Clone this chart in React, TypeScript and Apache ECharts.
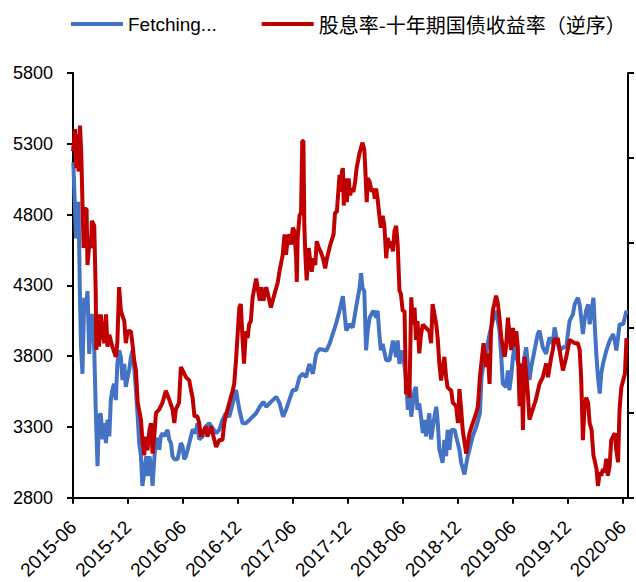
import React, { useEffect, useRef } from "react";
import * as echarts from "echarts";

const xTickLabels = ["2015-06", "2015-12", "2016-06", "2016-12", "2017-06", "2017-12", "2018-06", "2018-12", "2019-06", "2019-12", "2020-06"];

const seriesNames = ["Fetching...", "股息率-十年期国债收益率（逆序）"];

// Index level (left axis)
const indexSeries: [string, number][] = [
  ["2015-06-02", 5170], ["2015-06-11", 4632], ["2015-06-19", 4890], ["2015-06-24", 4192], ["2015-06-27", 3886],
  ["2015-07-02", 3676], ["2015-07-08", 4212], ["2015-07-14", 4143], ["2015-07-19", 4260], ["2015-07-25", 3816],
  ["2015-07-30", 4073], ["2015-08-05", 4095], ["2015-08-11", 3842], ["2015-08-16", 3422], ["2015-08-22", 3024],
  ["2015-08-27", 3373], ["2015-09-02", 3397], ["2015-09-08", 3213], ["2015-09-14", 3327], ["2015-09-19", 3187],
  ["2015-09-24", 3352], ["2015-09-30", 3234], ["2015-10-05", 3492], ["2015-10-10", 3562], ["2015-10-16", 3606],
  ["2015-10-22", 3490], ["2015-10-27", 3744], ["2015-11-02", 3842], ["2015-11-08", 3793], ["2015-11-13", 3632],
  ["2015-11-19", 3746], ["2015-11-24", 3583], ["2015-11-30", 3653], ["2015-12-05", 3700], ["2015-12-11", 3793],
  ["2015-12-16", 3840], ["2015-12-22", 3723], ["2015-12-28", 3560], ["2016-01-03", 3373], ["2016-01-08", 3187],
  ["2016-01-14", 3094], ["2016-01-19", 2884], ["2016-01-25", 2977], ["2016-02-01", 3094], ["2016-02-05", 2954],
  ["2016-02-11", 3094], ["2016-02-16", 3024], ["2016-02-21", 2884], ["2016-02-27", 3094], ["2016-03-03", 3213],
  ["2016-03-08", 3213], ["2016-03-14", 3140], ["2016-03-19", 3234], ["2016-03-25", 3257], ["2016-03-31", 3234],
  ["2016-04-05", 3257], ["2016-04-11", 3280], ["2016-04-16", 3213], ["2016-04-22", 3187], ["2016-04-27", 3094],
  ["2016-05-03", 3073], ["2016-05-14", 3073], ["2016-05-25", 3187], ["2016-05-31", 3163], ["2016-06-05", 3073],
  ["2016-06-11", 3094], ["2016-06-22", 3187], ["2016-07-03", 3282], ["2016-07-14", 3257], ["2016-07-19", 3327],
  ["2016-07-25", 3213], ["2016-08-06", 3234], ["2016-08-17", 3304], ["2016-08-28", 3327], ["2016-09-20", 3257],
  ["2016-09-30", 3280], ["2016-10-11", 3350], ["2016-10-22", 3397], ["2016-11-03", 3373], ["2016-11-14", 3467],
  ["2016-11-25", 3562], ["2016-12-06", 3422], ["2016-12-17", 3327], ["2016-12-28", 3327], ["2017-01-09", 3350],
  ["2017-01-20", 3373], ["2017-02-01", 3397], ["2017-02-12", 3443], ["2017-02-23", 3478], ["2017-03-04", 3443],
  ["2017-03-15", 3467], ["2017-03-26", 3490], ["2017-04-07", 3513], ["2017-04-18", 3467], ["2017-04-29", 3373],
  ["2017-05-09", 3422], ["2017-05-20", 3490], ["2017-06-01", 3562], ["2017-06-12", 3562], ["2017-06-23", 3653],
  ["2017-07-04", 3676], ["2017-07-15", 3653], ["2017-07-26", 3746], ["2017-08-07", 3676], ["2017-08-18", 3816],
  ["2017-08-29", 3851], ["2017-09-21", 3840], ["2017-10-01", 3886], ["2017-10-12", 3956], ["2017-10-23", 4026],
  ["2017-11-04", 4122], ["2017-11-15", 4224], ["2017-11-26", 3982], ["2017-12-07", 4026], ["2017-12-18", 4003],
  ["2017-12-29", 4143], ["2018-01-10", 4283], ["2018-01-15", 4387], ["2018-01-20", 4283], ["2018-01-26", 4259],
  ["2018-02-01", 3842], ["2018-02-06", 3980], ["2018-02-12", 4073], ["2018-02-23", 4122], ["2018-03-04", 4073],
  ["2018-03-09", 4122], ["2018-03-15", 3956], ["2018-03-20", 3842], ["2018-03-26", 3886], ["2018-04-07", 3772],
  ["2018-04-18", 3772], ["2018-04-29", 3910], ["2018-05-10", 3793], ["2018-05-15", 3912], ["2018-05-21", 3746],
  ["2018-06-01", 3840], ["2018-06-12", 3632], ["2018-06-18", 3422], ["2018-06-23", 3583], ["2018-06-29", 3373],
  ["2018-07-10", 3560], ["2018-07-15", 3583], ["2018-07-20", 3422], ["2018-07-26", 3467], ["2018-08-01", 3373],
  ["2018-08-07", 3257], ["2018-08-12", 3350], ["2018-08-18", 3234], ["2018-08-29", 3397], ["2018-09-04", 3213],
  ["2018-09-15", 3373], ["2018-09-21", 3443], ["2018-09-26", 3327], ["2018-10-01", 3140], ["2018-10-07", 3094],
  ["2018-10-12", 3047], ["2018-10-18", 3210], ["2018-10-24", 3094], ["2018-10-29", 3280], ["2018-11-04", 3140],
  ["2018-11-10", 3280], ["2018-11-21", 3280], ["2018-11-26", 3234], ["2018-12-07", 3140], ["2018-12-13", 3047],
  ["2018-12-24", 2966], ["2019-01-04", 3094], ["2019-01-10", 3140], ["2019-01-21", 3234], ["2019-02-02", 3303],
  ["2019-02-13", 3397], ["2019-02-18", 3653], ["2019-02-24", 3746], ["2019-03-05", 3842], ["2019-03-16", 3956],
  ["2019-03-27", 4050], ["2019-04-07", 4120], ["2019-04-18", 3980], ["2019-04-24", 3793], ["2019-04-29", 3606],
  ["2019-05-10", 3583], ["2019-05-16", 3700], ["2019-05-21", 3560], ["2019-05-27", 3653], ["2019-06-02", 3793],
  ["2019-06-08", 3886], ["2019-06-13", 3793], ["2019-06-24", 3723], ["2019-06-30", 3653], ["2019-07-10", 3793],
  ["2019-07-16", 3863], ["2019-07-27", 3632], ["2019-08-02", 3723], ["2019-08-13", 3840], ["2019-08-24", 3956],
  ["2019-08-30", 3980], ["2019-09-10", 3863], ["2019-09-21", 3816], ["2019-09-27", 3886], ["2019-10-02", 3933],
  ["2019-10-13", 3886], ["2019-10-19", 4003], ["2019-10-30", 3886], ["2019-11-05", 3840], ["2019-11-16", 3863],
  ["2019-11-27", 3863], ["2019-12-02", 3956], ["2019-12-08", 4050], ["2019-12-19", 4095], ["2019-12-25", 4166],
  ["2019-12-31", 4192], ["2020-01-05", 4213], ["2020-01-11", 4166], ["2020-01-16", 4073], ["2020-01-22", 3956],
  ["2020-01-27", 4050], ["2020-02-02", 4122], ["2020-02-08", 4166], ["2020-02-13", 4026], ["2020-02-19", 4122],
  ["2020-02-25", 4213], ["2020-03-01", 3980], ["2020-03-06", 3793], ["2020-03-11", 3653], ["2020-03-17", 3536],
  ["2020-03-22", 3676], ["2020-03-28", 3746], ["2020-04-08", 3840], ["2020-04-19", 3910], ["2020-04-30", 3956],
  ["2020-05-06", 3910], ["2020-05-11", 3840], ["2020-05-17", 3933], ["2020-05-22", 4026], ["2020-06-03", 4026],
  ["2020-06-14", 4122],
];

// Dividend yield minus 10y bond yield, % (right axis, reversed)
const spreadSeries: [string, number][] = [
  ["2015-06-01", -2.04], ["2015-06-05", -2.11], ["2015-06-08", -2.17], ["2015-06-12", -1.94], ["2015-06-16", -2.14],
  ["2015-06-19", -1.92], ["2015-06-24", -2.19], ["2015-06-28", -2.03], ["2015-07-02", -1.74], ["2015-07-06", -1.47],
  ["2015-07-10", -1.70], ["2015-07-16", -1.70], ["2015-07-19", -1.37], ["2015-07-25", -1.49], ["2015-07-30", -1.47],
  ["2015-08-03", -1.63], ["2015-08-11", -1.60], ["2015-08-16", -1.20], ["2015-08-18", -0.87], ["2015-08-22", -1.08],
  ["2015-08-27", -0.89], ["2015-09-02", -1.08], ["2015-09-08", -0.96], ["2015-09-14", -0.91], ["2015-09-19", -1.08],
  ["2015-09-24", -0.89], ["2015-09-30", -0.96], ["2015-10-10", -0.89], ["2015-10-22", -0.83], ["2015-10-27", -0.91],
  ["2015-11-02", -1.24], ["2015-11-08", -1.10], ["2015-11-19", -1.04], ["2015-11-24", -0.91], ["2015-11-30", -0.98],
  ["2015-12-11", -0.98], ["2015-12-16", -0.91], ["2015-12-22", -0.81], ["2015-12-28", -0.75], ["2016-01-03", -0.56],
  ["2016-01-14", -0.46], ["2016-01-19", -0.34], ["2016-01-25", -0.25], ["2016-01-31", -0.36], ["2016-02-05", -0.28],
  ["2016-02-11", -0.40], ["2016-02-16", -0.44], ["2016-02-21", -0.26], ["2016-02-27", -0.38], ["2016-03-03", -0.50],
  ["2016-03-14", -0.52], ["2016-03-25", -0.56], ["2016-04-05", -0.63], ["2016-04-16", -0.58], ["2016-04-27", -0.52],
  ["2016-05-03", -0.44], ["2016-05-08", -0.52], ["2016-05-19", -0.56], ["2016-05-25", -0.77], ["2016-05-31", -0.75],
  ["2016-06-11", -0.71], ["2016-06-22", -0.69], ["2016-06-28", -0.63], ["2016-07-03", -0.59], ["2016-07-09", -0.48],
  ["2016-07-19", -0.48], ["2016-07-25", -0.44], ["2016-07-31", -0.36], ["2016-08-17", -0.42], ["2016-08-22", -0.36],
  ["2016-09-03", -0.42], ["2016-09-14", -0.34], ["2016-09-20", -0.30], ["2016-09-30", -0.34], ["2016-10-11", -0.34],
  ["2016-10-17", -0.44], ["2016-10-22", -0.48], ["2016-11-03", -0.56], ["2016-11-14", -0.63], ["2016-11-19", -0.67],
  ["2016-11-25", -0.81], ["2016-12-06", -1.12], ["2016-12-11", -1.14], ["2016-12-17", -0.93], ["2016-12-22", -0.79],
  ["2016-12-28", -0.98], ["2017-01-03", -0.94], ["2017-01-08", -1.02], ["2017-01-14", -1.04], ["2017-01-20", -1.18],
  ["2017-02-01", -1.29], ["2017-02-12", -1.16], ["2017-02-17", -1.24], ["2017-02-23", -1.16], ["2017-03-04", -1.24],
  ["2017-03-15", -1.16], ["2017-03-20", -1.12], ["2017-04-01", -1.20], ["2017-04-12", -1.27], ["2017-04-17", -1.33],
  ["2017-04-28", -1.43], ["2017-05-04", -1.55], ["2017-05-09", -1.43], ["2017-05-15", -1.53], ["2017-05-20", -1.55],
  ["2017-05-26", -1.49], ["2017-06-01", -1.59], ["2017-06-06", -1.57], ["2017-06-12", -1.41], ["2017-06-14", -1.27],
  ["2017-06-17", -1.53], ["2017-06-23", -1.66], ["2017-06-28", -1.68], ["2017-07-02", -2.10], ["2017-07-06", -2.10],
  ["2017-07-09", -1.60], ["2017-07-13", -1.41], ["2017-07-17", -1.28], ["2017-07-24", -1.47], ["2017-07-28", -1.41],
  ["2017-08-03", -1.33], ["2017-08-09", -1.41], ["2017-08-15", -1.37], ["2017-08-20", -1.51], ["2017-08-27", -1.47],
  ["2017-09-02", -1.45], ["2017-09-10", -1.41], ["2017-09-17", -1.35], ["2017-09-23", -1.41], ["2017-10-04", -1.49],
  ["2017-10-15", -1.55], ["2017-10-20", -1.68], ["2017-10-26", -1.68], ["2017-10-31", -1.80], ["2017-11-04", -1.90],
  ["2017-11-07", -1.80], ["2017-11-12", -1.92], ["2017-11-15", -1.94], ["2017-11-18", -1.72], ["2017-11-23", -1.88],
  ["2017-11-28", -1.74], ["2017-12-04", -1.88], ["2017-12-09", -1.78], ["2017-12-15", -1.82], ["2017-12-20", -1.80],
  ["2017-12-26", -1.86], ["2017-12-31", -1.94], ["2018-01-10", -2.03], ["2018-01-20", -2.09], ["2018-01-26", -2.05],
  ["2018-01-29", -1.95], ["2018-02-03", -1.74], ["2018-02-06", -1.88], ["2018-02-12", -1.86], ["2018-02-18", -1.80],
  ["2018-02-23", -1.82], ["2018-02-28", -1.76], ["2018-03-04", -1.82], ["2018-03-09", -1.76], ["2018-03-15", -1.66],
  ["2018-03-20", -1.59], ["2018-03-26", -1.66], ["2018-04-01", -1.60], ["2018-04-07", -1.41], ["2018-04-12", -1.53],
  ["2018-04-18", -1.47], ["2018-04-23", -1.51], ["2018-04-29", -1.45], ["2018-05-04", -1.57], ["2018-05-10", -1.60],
  ["2018-05-15", -1.49], ["2018-05-21", -1.22], ["2018-05-26", -1.20], ["2018-06-01", -1.10], ["2018-06-07", -1.10],
  ["2018-06-12", -0.61], ["2018-06-18", -0.71], ["2018-06-23", -0.59], ["2018-06-29", -1.18], ["2018-07-04", -1.02],
  ["2018-07-10", -1.12], ["2018-07-15", -0.93], ["2018-07-20", -1.04], ["2018-07-26", -0.85], ["2018-08-01", -0.96],
  ["2018-08-07", -1.02], ["2018-08-18", -1.00], ["2018-08-29", -0.98], ["2018-09-04", -0.91], ["2018-09-09", -1.14],
  ["2018-09-21", -1.02], ["2018-09-26", -0.93], ["2018-10-01", -0.79], ["2018-10-07", -0.69], ["2018-10-18", -0.83],
  ["2018-10-24", -0.71], ["2018-10-29", -0.65], ["2018-11-10", -0.63], ["2018-11-15", -0.56], ["2018-11-26", -0.54],
  ["2018-12-02", -0.44], ["2018-12-07", -0.64], ["2018-12-13", -0.52], ["2018-12-18", -0.40], ["2018-12-30", -0.26],
  ["2019-01-10", -0.38], ["2019-01-21", -0.44], ["2019-02-02", -0.50], ["2019-02-07", -0.54], ["2019-02-13", -0.71],
  ["2019-02-24", -0.91], ["2019-03-05", -0.77], ["2019-03-10", -0.85], ["2019-03-16", -0.67], ["2019-03-21", -0.98],
  ["2019-03-27", -1.10], ["2019-04-07", -1.19], ["2019-04-13", -1.14], ["2019-04-18", -1.06], ["2019-04-24", -0.94],
  ["2019-05-05", -0.83], ["2019-05-10", -0.89], ["2019-05-16", -1.06], ["2019-05-27", -0.87], ["2019-06-02", -1.00],
  ["2019-06-08", -0.89], ["2019-06-13", -0.98], ["2019-06-18", -0.89], ["2019-06-24", -0.54], ["2019-06-30", -0.79],
  ["2019-07-05", -0.40], ["2019-07-10", -0.83], ["2019-07-16", -0.73], ["2019-07-21", -0.63], ["2019-07-27", -0.46],
  ["2019-08-07", -0.52], ["2019-08-18", -0.58], ["2019-08-30", -0.67], ["2019-09-10", -0.71], ["2019-09-21", -0.79],
  ["2019-09-27", -0.71], ["2019-10-08", -0.83], ["2019-10-13", -0.87], ["2019-10-19", -0.94], ["2019-10-24", -0.91],
  ["2019-10-30", -0.94], ["2019-11-10", -0.81], ["2019-11-16", -0.75], ["2019-11-27", -0.83], ["2019-12-08", -0.93],
  ["2019-12-25", -0.91], ["2020-01-05", -0.91], ["2020-01-11", -0.87], ["2020-01-16", -0.71], ["2020-01-22", -0.34],
  ["2020-01-27", -0.52], ["2020-02-02", -0.59], ["2020-02-08", -0.56], ["2020-02-13", -0.44], ["2020-02-19", -0.40],
  ["2020-02-25", -0.25], ["2020-03-01", -0.21], ["2020-03-06", -0.17], ["2020-03-11", -0.07], ["2020-03-17", -0.15],
  ["2020-03-22", -0.13], ["2020-03-28", -0.17], ["2020-04-02", -0.15], ["2020-04-08", -0.23], ["2020-04-13", -0.13],
  ["2020-04-19", -0.19], ["2020-04-24", -0.34], ["2020-04-30", -0.36], ["2020-05-06", -0.38], ["2020-05-11", -0.28],
  ["2020-05-17", -0.21], ["2020-05-22", -0.52], ["2020-05-28", -0.65], ["2020-06-03", -0.69], ["2020-06-09", -0.73],
  ["2020-06-14", -0.94],
];

// months elapsed since 2015-06-01
function monthIndex(d: string): number {
  const [y, m, dd] = d.split("-").map(Number);
  const dim = new Date(y, m, 0).getDate();
  return (y - 2015) * 12 + (m - 6) + (dd - 1) / dim;
}

export default function App() {
  const ref = useRef<HTMLDivElement>(null);
  useEffect(() => {
    document.body.style.margin = "0";
    if (!ref.current) return;
    const chart = echarts.init(ref.current, null, { renderer: "svg" });
    const latin = "'Liberation Sans', Arial, sans-serif";
    const axisLine = { show: true, lineStyle: { color: "#000", width: 2 } };
    chart.setOption({
      animation: false,
      backgroundColor: "#fff",
      grid: { left: 73, right: 8, top: 73, bottom: 80, containLabel: false },
      legend: {
        left: 66,
        top: 9,
        width: 900,
        orient: "horizontal",
        icon: "rect",
        itemWidth: 52,
        itemHeight: 4,
        itemGap: 45,
        textStyle: {
          fontSize: 19,
          fontFamily: latin,
          color: "#000",
          rich: { cjk: { fontSize: 20, fontFamily: "'Noto Sans CJK SC', sans-serif", color: "#000" } },
        },
        formatter: (name: string) => (/[\u4e00-\u9fff]/.test(name) ? `{cjk|${name}}` : name),
        data: seriesNames,
      },
      xAxis: {
        type: "value",
        min: 0,
        max: 60.6,
        interval: 6,
        splitLine: { show: false },
        axisLine,
        axisTick: { show: true, length: 6, lineStyle: { color: "#000", width: 2 } },
        axisLabel: {
          rotate: 45,
          margin: 26,
          fontSize: 19,
          fontFamily: latin,
          color: "#000",
          showMaxLabel: false,
          formatter: (v: number) => {
            const r = Math.round(v);
            if (Math.abs(v - r) > 1e-6 || r % 6 !== 0) return "";
            return xTickLabels[r / 6] ?? "";
          },
        },
      },
      yAxis: [
        {
          type: "value",
          min: 2800,
          max: 5800,
          interval: 500,
          position: "left",
          splitLine: { show: false },
          axisLine,
          axisTick: { show: true, length: 6, lineStyle: { color: "#000", width: 2 } },
          axisLabel: { fontSize: 18, fontFamily: latin, color: "#000", margin: 20, formatter: (v: number) => String(v) },
        },
        {
          type: "value",
          min: -2.5,
          max: 0,
          interval: 0.5,
          inverse: true,
          position: "right",
          splitLine: { show: false },
          axisLine,
          axisTick: { show: true, length: 6, lineStyle: { color: "#000", width: 2 } },
          axisLabel: { show: false },
        },
      ],
      series: [
        {
          name: seriesNames[0],
          type: "line",
          yAxisIndex: 0,
          showSymbol: false,
          symbol: "none",
          color: "#4472C4",
          lineStyle: { width: 4, color: "#4472C4" },
          data: indexSeries.map(([d, v]) => [monthIndex(d), v]),
        },
        {
          name: seriesNames[1],
          type: "line",
          yAxisIndex: 1,
          showSymbol: false,
          symbol: "none",
          color: "#C00000",
          lineStyle: { width: 4, color: "#C00000" },
          data: spreadSeries.map(([d, v]) => [monthIndex(d), v]),
        },
      ],
    });
    return () => chart.dispose();
  }, []);
  return <div ref={ref} style={{ width: 636, height: 582 }} />;
}
